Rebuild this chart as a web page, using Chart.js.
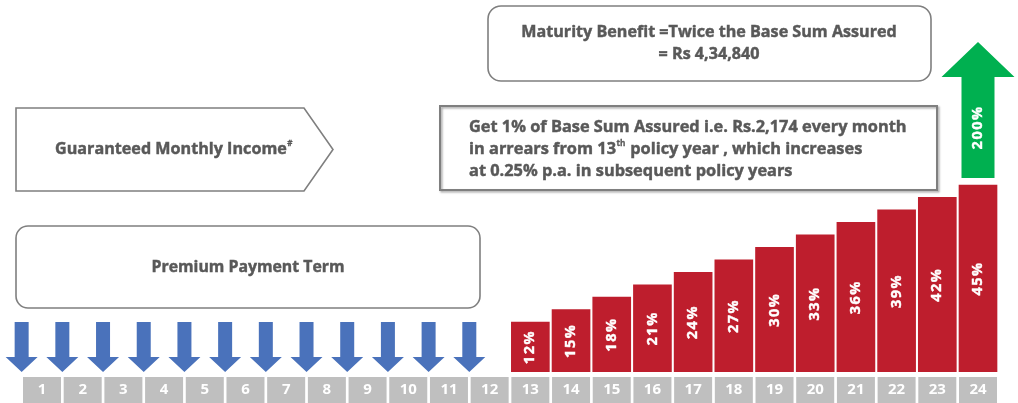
<!DOCTYPE html>
<html>
<head>
<meta charset="utf-8">
<script src="https://cdn.jsdelivr.net/npm/chart.js@4.4.1/dist/chart.umd.min.js"></script>
<style>
  html, body { margin: 0; padding: 0; background: #fff; }
  #wrap { width: 1018px; height: 403px; }
</style>
</head>
<body>
<div id="wrap"><canvas id="grafico"></canvas></div>
<script>
// policy years and their labels
const years = [1, 2, 3, 4, 5, 6, 7, 8, 9, 10, 11, 12, 13, 14, 15, 16, 17, 18, 19, 20, 21, 22, 23, 24];
const yearLabels = ['1', '2', '3', '4', '5', '6', '7', '8', '9', '10', '11', '12',
  '13', '14', '15', '16', '17', '18', '19', '20', '21', '22', '23', '24'];

// premiums paid at the start of each year (blue arrows)
const premiumYears = [0.5, 1.5, 2.5, 3.5, 4.5, 5.5, 6.5, 7.5, 8.5, 9.5, 10.5, 11.5];
const premiumArrow = [12, 12, 12, 12, 12, 12, 12, 12, 12, 12, 12, 12];

// guaranteed monthly income, % of base sum assured
const incomeYears = [13, 14, 15, 16, 17, 18, 19, 20, 21, 22, 23, 24];
const incomePct = [12, 15, 18, 21, 24, 27, 30, 33, 36, 39, 42, 45];

// maturity benefit (green arrow)
const maturityYear = [24];
const maturityRange = [[46.7, 79.4]];
const maturityPct = [200];

const FUENTE = '"Open Sans", sans-serif';
const GRIS = '#595959';

function tamano(ctx, str, ancho) {
  ctx.font = `bold 100px ${FUENTE}`;
  return 100 * ancho / ctx.measureText(str).width;
}

function texto(ctx, str, x, y, size, align, grosor) {
  ctx.font = `bold ${size}px ${FUENTE}`;
  ctx.textAlign = align || 'left';
  ctx.textBaseline = 'middle';
  ctx.fillText(str, x, y);
  if (grosor) {
    ctx.lineWidth = grosor;
    ctx.strokeStyle = ctx.fillStyle;
    ctx.strokeText(str, x, y);
  }
  return ctx.measureText(str).width;
}

// line made of pieces, some of them superscript
function linea(ctx, partes, x, y, size) {
  let cx = x;
  partes.forEach(p => {
    if (p.sup) {
      cx += texto(ctx, p.t, cx + 0.5, y - size * 0.35, size * 0.5, 'left', 0.3) + 1;
    } else {
      cx += texto(ctx, p.t, cx, y, size, 'left', 0.45);
    }
  });
}

const cajasEjes = {
  id: 'cajasEjes',
  beforeDraw(chart) {
    const { ctx, chartArea } = chart;
    const x = chart.scales.x;
    ctx.save();
    ctx.fillStyle = '#bfbfbf';
    years.forEach(v => {
      const px = x.getPixelForValue(v);
      ctx.fillRect(px - 19, chartArea.bottom + 5, 38, chart.height - chartArea.bottom - 5);
    });
    ctx.restore();
  }
};

const flechas = {
  id: 'flechas',
  afterDatasetsDraw(chart) {
    const ctx = chart.ctx;
    ctx.save();
    chart.data.datasets.forEach((ds, i) => {
      const meta = chart.getDatasetMeta(i);
      meta.data.forEach((el, j) => {
        const { x, y, base } = el.getProps(['x', 'y', 'base'], true);
        const top = Math.min(y, base), bottom = Math.max(y, base);
        const f = ds.flecha;
        if (f) {
          ctx.fillStyle = f.color;
          ctx.beginPath();
          if (f.dir === 'down') {
            const hb = bottom - f.headLen;
            ctx.moveTo(x - f.shaft / 2, top);
            ctx.lineTo(x + f.shaft / 2, top);
            ctx.lineTo(x + f.shaft / 2, hb);
            ctx.lineTo(x + f.head / 2, hb);
            ctx.lineTo(x, bottom);
            ctx.lineTo(x - f.head / 2, hb);
            ctx.lineTo(x - f.shaft / 2, hb);
          } else {
            const hb = top + f.headLen;
            ctx.moveTo(x, top);
            ctx.lineTo(x + f.head / 2, hb);
            ctx.lineTo(x + f.shaft / 2, hb);
            ctx.lineTo(x + f.shaft / 2, bottom);
            ctx.lineTo(x - f.shaft / 2, bottom);
            ctx.lineTo(x - f.shaft / 2, hb);
            ctx.lineTo(x - f.head / 2, hb);
          }
          ctx.closePath();
          ctx.fill();
        }
        if (ds.etiquetas) {
          const cy = f && f.dir === 'up' ? (top + f.headLen + bottom) / 2 : (top + bottom) / 2;
          ctx.save();
          ctx.translate(x, cy);
          ctx.rotate(-Math.PI / 2);
          ctx.fillStyle = '#ffffff';
          ctx.letterSpacing = '1.5px';
          texto(ctx, ds.etiquetas[j] + '%', 0, 0, 14.5, 'center', 0.4);
          ctx.restore();
        }
      });
    });
    ctx.restore();
  }
};

const cuadros = {
  id: 'cuadros',
  afterDraw(chart) {
    const ctx = chart.ctx;
    ctx.save();
    ctx.fillStyle = GRIS;

    // maturity box
    ctx.strokeStyle = '#7f7f7f';
    ctx.lineWidth = 1.6;
    ctx.beginPath();
    ctx.roundRect(488, 6, 443, 75, 13);
    ctx.stroke();
    const l1 = 'Maturity Benefit =Twice the Base Sum Assured';
    const s1 = tamano(ctx, l1, 376);
    texto(ctx, l1, 709, 32, s1, 'center', 0.45);
    texto(ctx, '= Rs 4,34,840', 709, 54, s1, 'center', 0.45);

    // income details box
    ctx.save();
    ctx.strokeStyle = '#7f7f7f';
    ctx.shadowColor = 'rgba(0,0,0,0.35)';
    ctx.shadowOffsetX = 1.5;
    ctx.shadowOffsetY = 1.5;
    ctx.shadowBlur = 2;
    ctx.lineWidth = 2;
    ctx.strokeRect(440, 106, 497, 84);
    ctx.restore();
    const g1 = 'Get 1% of Base Sum Assured i.e. Rs.2,174 every month';
    const s2 = tamano(ctx, g1, 438);
    linea(ctx, [{ t: g1 }], 469, 127, s2);
    linea(ctx, [{ t: 'in arrears from 13' }, { t: 'th', sup: true }, { t: ' policy year , which increases' }], 469, 149, s2);
    linea(ctx, [{ t: 'at 0.25% p.a. in subsequent policy years' }], 469, 171, s2);

    // guaranteed monthly income arrow box
    ctx.strokeStyle = '#7f7f7f';
    ctx.lineWidth = 1.6;
    ctx.beginPath();
    ctx.moveTo(16, 108);
    ctx.lineTo(304, 108);
    ctx.lineTo(333, 149.5);
    ctx.lineTo(304, 191);
    ctx.lineTo(16, 191);
    ctx.closePath();
    ctx.stroke();
    const gm = 'Guaranteed Monthly Income';
    const s3 = tamano(ctx, gm, 232);
    linea(ctx, [{ t: gm }, { t: '#', sup: true }], 55, 149, s3);

    // premium payment term box
    ctx.strokeStyle = '#7f7f7f';
    ctx.lineWidth = 1.6;
    ctx.beginPath();
    ctx.roundRect(16, 226, 464, 82, 12);
    ctx.stroke();
    const pp = 'Premium Payment Term';
    texto(ctx, pp, 248, 267, tamano(ctx, pp, 193), 'center', 0.45);
    ctx.restore();
  }
};

const ctx = document.getElementById('grafico').getContext('2d');
new Chart(ctx, {
  type: 'bar',
  data: {
    datasets: [{
      label: 'Premium',
      data: premiumYears.map((x, i) => ({ x, y: premiumArrow[i] })),
      backgroundColor: 'rgba(0,0,0,0)',
      barThickness: 32,
      stack: 'uno',
      flecha: { dir: 'down', shaft: 14, head: 32, headLen: 15, color: '#4a72bb' }
    }, {
      label: 'Guaranteed Monthly Income',
      data: incomeYears.map((x, i) => ({ x, y: incomePct[i] })),
      backgroundColor: '#be1e2d',
      barThickness: 38,
      stack: 'uno',
      etiquetas: incomePct
    }, {
      label: 'Maturity Benefit',
      data: maturityYear.map((x, i) => ({ x, y: maturityRange[i] })),
      backgroundColor: 'rgba(0,0,0,0)',
      barThickness: 73,
      stack: 'uno',
      flecha: { dir: 'up', shaft: 33, head: 73, headLen: 35, color: '#00b050' },
      etiquetas: maturityPct
    }]
  },
  options: {
    responsive: true,
    maintainAspectRatio: false,
    animation: false,
    layout: { padding: { left: 21.65, right: 19.65, top: 0, bottom: 0 } },
    plugins: {
      legend: { display: false },
      tooltip: { enabled: false }
    },
    scales: {
      x: {
        type: 'linear',
        min: 0.5,
        max: 24.5,
        offset: false,
        grid: { display: false, drawTicks: false },
        border: { display: false },
        afterBuildTicks: scale => { scale.ticks = years.map(v => ({ value: v })); },
        afterFit: scale => { scale.height = 31; },
        ticks: {
          autoSkip: false,
          maxRotation: 0,
          minRotation: 0,
          padding: 9,
          color: '#ffffff',
          font: { family: FUENTE, size: 15, weight: 'bold' },
          callback: (value, index) => yearLabels[index]
        }
      },
      y: {
        display: false,
        min: 0,
        max: 89.5,
        stacked: false
      }
    }
  },
  plugins: [cajasEjes, flechas, cuadros]
});
</script>
</body>
</html>
